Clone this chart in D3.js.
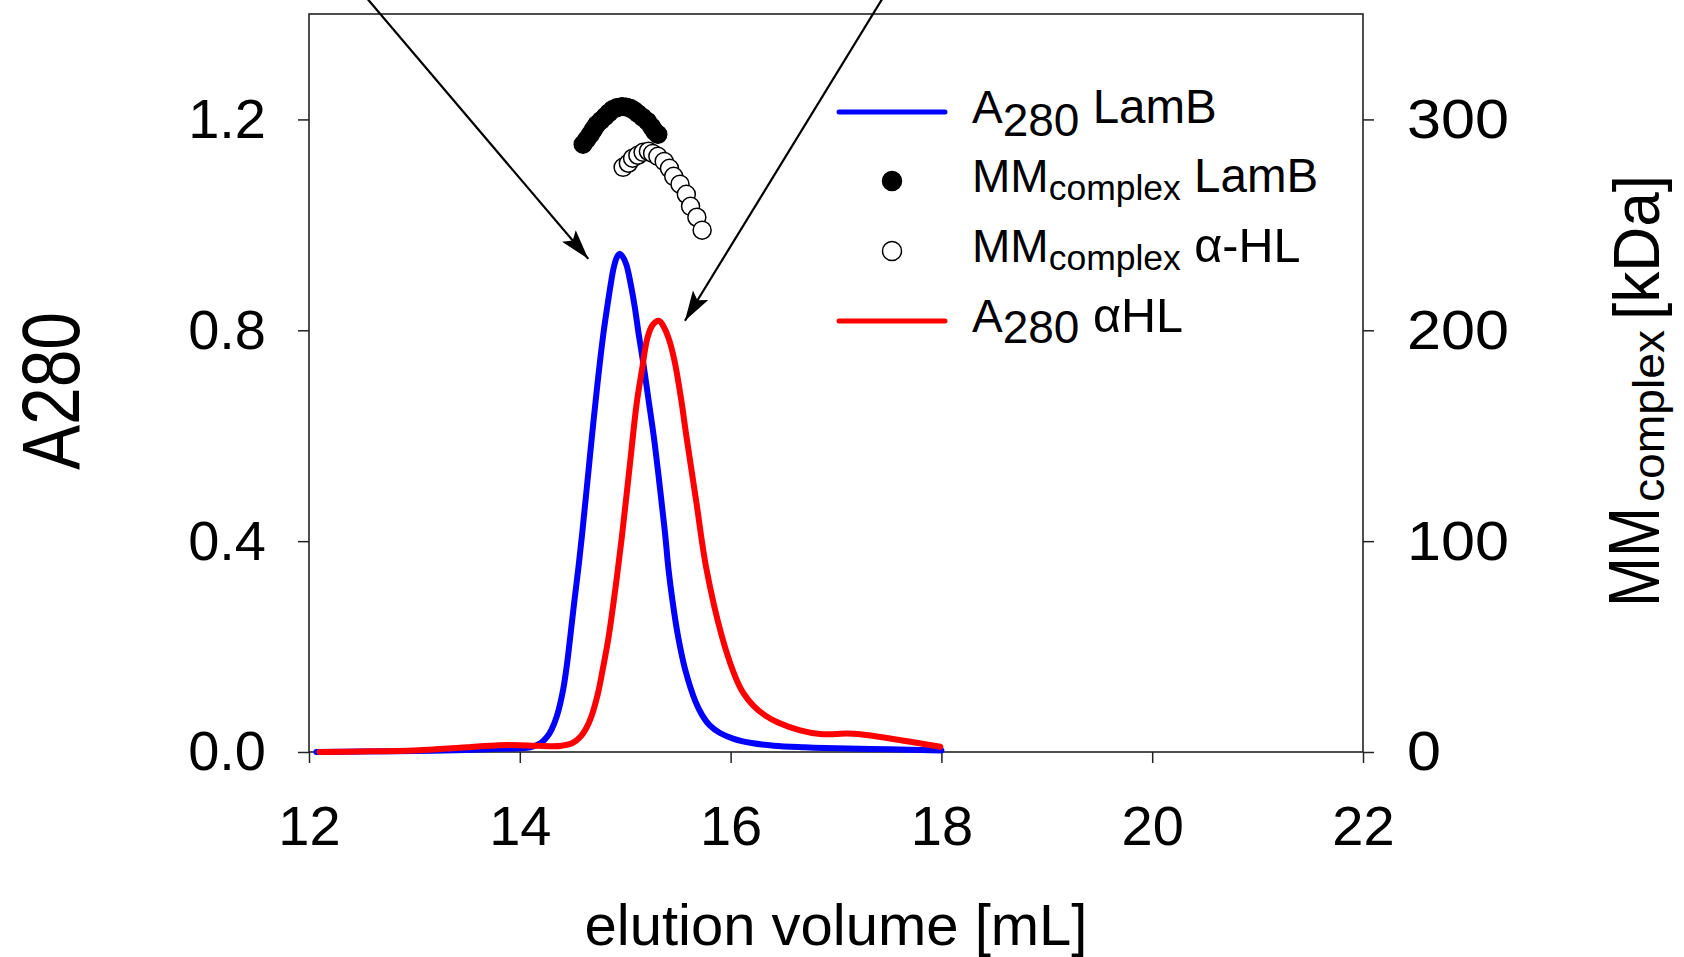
<!DOCTYPE html>
<html>
<head>
<meta charset="utf-8">
<script src="https://cdn.jsdelivr.net/npm/d3@7"></script>
<style>
  html, body { margin: 0; padding: 0; background: #fff; }
  svg { display: block; }
  text { font-family: "Liberation Sans", Arial, Helvetica, sans-serif; fill: #000; }
</style>
</head>
<body>
<svg id="chart" width="1684" height="957"></svg>
<script>
// ---- data -------------------------------------------------------------
// A280 trace, LamB (elution volume in mL, absorbance)
const lambVol = [12.07, 12.5, 13.0, 13.5, 13.8, 14.0, 14.1, 14.2, 14.26, 14.3, 14.35, 14.41, 14.45, 14.48,
  14.52, 14.555, 14.59, 14.63, 14.68, 14.735, 14.79, 14.83, 14.86, 14.89, 14.92, 14.944, 14.975, 15.01,
  15.05, 15.09, 15.13, 15.17, 15.22, 15.27, 15.31, 15.345, 15.38, 15.41, 15.45, 15.5, 15.567, 15.668,
  15.73, 15.8, 15.9, 16.03, 16.2, 16.41, 16.7, 17.0, 17.5, 18.0];
const lambA280 = [0, 0.001, 0.002, 0.004, 0.006, 0.007, 0.009, 0.017, 0.029, 0.042, 0.067, 0.117, 0.17, 0.221,
  0.29, 0.348, 0.411, 0.49, 0.59, 0.695, 0.789, 0.845, 0.884, 0.918, 0.938, 0.945, 0.94, 0.925,
  0.89, 0.845, 0.79, 0.74, 0.67, 0.60, 0.535, 0.474, 0.411, 0.348, 0.285, 0.221, 0.158, 0.095,
  0.07, 0.051, 0.036, 0.025, 0.017, 0.012, 0.009, 0.007, 0.005, 0.003];

// A280 trace, alpha-hemolysin
const hlVol = [12.1, 12.5, 13.0, 13.2, 13.5, 13.8, 14.0, 14.13, 14.3, 14.4, 14.5, 14.58, 14.63, 14.68,
  14.74, 14.79, 14.84, 14.88, 14.92, 14.97, 15.04, 15.11, 15.16, 15.21, 15.26, 15.32, 15.37, 15.42,
  15.47, 15.53, 15.58, 15.675, 15.77, 15.915, 16.04, 16.12, 16.22, 16.33, 16.45, 16.66, 16.85, 17.0,
  17.1, 17.25, 17.5, 17.75, 17.99];
const hlA280 = [0, 0.001, 0.003, 0.005, 0.009, 0.013, 0.013, 0.012, 0.011, 0.012, 0.017, 0.03, 0.045, 0.068,
  0.11, 0.16, 0.215, 0.27, 0.33, 0.411, 0.537, 0.663, 0.726, 0.785, 0.81, 0.818, 0.805, 0.78,
  0.74, 0.67, 0.60, 0.474, 0.348, 0.221, 0.145, 0.112, 0.087, 0.069, 0.056, 0.041, 0.034, 0.034,
  0.035, 0.033, 0.026, 0.018, 0.010];

// Molar mass of the complex across the peak (kDa)
const mmLambVol = [14.60, 14.635, 14.67, 14.70, 14.73, 14.77, 14.81, 14.845, 14.88, 14.92, 14.97, 15.01,
  15.05, 15.085, 15.12, 15.165, 15.21, 15.25, 15.28, 15.31];
const mmLamb = [288.2, 290.5, 292.9, 295.3, 297.6, 299.5, 301.4, 303.1, 304.7, 305.6, 306.1, 305.9,
  305.3, 304.2, 302.8, 301.0, 299.1, 296.5, 294.3, 292.9];

const mmHlVol = [14.98, 15.03, 15.07, 15.12, 15.17, 15.22, 15.26, 15.31, 15.37, 15.42, 15.46, 15.52,
  15.58, 15.62, 15.68, 15.73];
const mmHl = [277.3, 279.2, 281.6, 283.0, 284.4, 284.9, 283.9, 282.5, 280.1, 276.8, 273.0, 269.3,
  264.5, 258.8, 253.6, 247.5];

// axis ticks
const xTicks = [12, 14, 16, 18, 20, 22];
const leftTicks = [0.0, 0.4, 0.8, 1.2];
const rightTicks = [0, 100, 200, 300];

// ---- layout -----------------------------------------------------------
const svg = d3.select("#chart");
const FONT = 56;
const plotL = 309, plotR = 1363, plotT = 14, plotB = 752;

const x = d3.scaleLinear().domain([12, 22]).range([plotL, plotR]);
const yA = d3.scaleLinear().domain([0, 1.4]).range([plotB, plotT]);
const yMM = d3.scaleLinear().domain([0, 350]).range([plotB, plotT]);

svg.append("rect").attr("width", 1684).attr("height", 957).attr("fill", "#fff");

// axes
function styleAxis(g) {
  g.select(".domain").remove();
  g.selectAll(".tick line").attr("stroke", "#222").attr("stroke-width", 1.5);
  g.selectAll(".tick text").attr("font-size", FONT)
    .attr("font-family", "'Liberation Sans', Arial, sans-serif").attr("fill", "#000");
}

svg.append("g").attr("transform", `translate(0,${plotB})`)
  .call(d3.axisBottom(x).tickValues(xTicks).tickSize(11).tickPadding(42).tickFormat(d3.format("d")))
  .call(styleAxis);

svg.append("g").attr("transform", `translate(${plotL},0)`)
  .call(d3.axisLeft(yA).tickValues(leftTicks).tickSize(11).tickPadding(32).tickFormat(d3.format(".1f")))
  .call(styleAxis);

// right-hand tick labels are set a little wider
svg.append("g").attr("transform", `translate(${plotR},0)`)
  .call(d3.axisRight(yMM).tickValues(rightTicks).tickSize(11).tickPadding(33).tickFormat(d3.format("d")))
  .call(styleAxis)
  .call(g => g.selectAll(".tick text")
    .attr("textLength", d => String(d).length * 34)
    .attr("lengthAdjust", "spacingAndGlyphs"));

// frame
svg.append("rect")
  .attr("x", plotL).attr("y", plotT)
  .attr("width", plotR - plotL).attr("height", plotB - plotT)
  .attr("fill", "none").attr("stroke", "#222").attr("stroke-width", 1.6);

// ---- traces -------------------------------------------------------------
const line = d3.line().x(d => x(d[0])).y(d => yA(d[1])).curve(d3.curveCatmullRom.alpha(0.5));

svg.append("path")
  .datum(d3.zip(lambVol, lambA280))
  .attr("d", line)
  .attr("fill", "none").attr("stroke", "#0000ff").attr("stroke-width", 6)
  .attr("stroke-linejoin", "round").attr("stroke-linecap", "round");

svg.append("path")
  .datum(d3.zip(hlVol, hlA280))
  .attr("d", line)
  .attr("fill", "none").attr("stroke", "#ff0000").attr("stroke-width", 6)
  .attr("stroke-linejoin", "round").attr("stroke-linecap", "round");

// molar-mass points
svg.append("g").selectAll("circle")
  .data(d3.zip(mmLambVol, mmLamb))
  .join("circle")
  .attr("cx", d => x(d[0])).attr("cy", d => yMM(d[1])).attr("r", 9)
  .attr("fill", "#000").attr("stroke", "#000").attr("stroke-width", 1.2);

svg.append("g").selectAll("circle")
  .data(d3.zip(mmHlVol, mmHl))
  .join("circle")
  .attr("cx", d => x(d[0])).attr("cy", d => yMM(d[1])).attr("r", 9)
  .attr("fill", "#fff").attr("stroke", "#000").attr("stroke-width", 1.5);

// ---- annotation arrows ----------------------------------------------
const defs = svg.append("defs");
defs.append("marker")
  .attr("id", "head").attr("viewBox", "0 0 30 18")
  .attr("refX", 30).attr("refY", 9)
  .attr("markerWidth", 30).attr("markerHeight", 18)
  .attr("markerUnits", "userSpaceOnUse").attr("orient", "auto")
  .append("path").attr("d", "M0,0 L30,9 L0,18 L6,9 Z").attr("fill", "#000");

// arrow 1 points at the LamB peak, arrow 2 at the alpha-HL peak
const arrows = [
  { from: [365, -4], to: [x(14.944) - 31, yA(0.945) + 5] },
  { from: [884, -4], to: [x(15.32) + 26, yA(0.818)] }
];
svg.append("g").selectAll("line")
  .data(arrows)
  .join("line")
  .attr("x1", d => d.from[0]).attr("y1", d => d.from[1])
  .attr("x2", d => d.to[0]).attr("y2", d => d.to[1])
  .attr("stroke", "#000").attr("stroke-width", 2.2)
  .attr("marker-end", "url(#head)");

// ---- legend -----------------------------------------------------------
// each entry: symbol + text runs [text, size, baseline shift]
const legendRows = [
  { sym: "line", color: "#0000ff", y: 123, runs: [["A", 46, 0], ["280", 46, 13], [" LamB", 47.5, 0]] },
  { sym: "dot", fill: "#000", y: 192, runs: [["MM", 46, 0], ["complex", 35.5, 8], [" LamB", 47.5, 0]] },
  { sym: "dot", fill: "#fff", y: 262, runs: [["MM", 46, 0], ["complex", 35.5, 8], [" \u03b1-HL", 48.5, 0]] },
  { sym: "line", color: "#ff0000", y: 332, runs: [["A", 46, 0], ["280", 46, 11], [" \u03b1HL", 48.5, 0]] }
];
const lg = svg.append("g");
legendRows.forEach(row => {
  if (row.sym === "line") {
    lg.append("line").attr("x1", 839).attr("x2", 945)
      .attr("y1", row.y - 11).attr("y2", row.y - 11)
      .attr("stroke", row.color).attr("stroke-width", 5).attr("stroke-linecap", "round");
  } else {
    lg.append("circle").attr("cx", 892).attr("cy", row.y - 11).attr("r", 9.5)
      .attr("fill", row.fill).attr("stroke", "#000").attr("stroke-width", 1.5);
  }
  const t = lg.append("text").attr("x", 972).attr("y", row.y).style("white-space", "pre");
  let prev = 0;
  row.runs.forEach(([s, size, shift]) => {
    t.append("tspan").attr("font-size", size).attr("dy", shift - prev).text(s);
    prev = shift;
  });
});

// ---- axis titles -------------------------------------------------------
svg.append("text")
  .attr("x", (plotL + plotR) / 2).attr("y", 945)
  .attr("text-anchor", "middle").attr("font-size", 58)
  .text("elution volume [mL]");

// left title, reads bottom-to-top
svg.append("text")
  .attr("transform", "translate(79,470) rotate(-90)")
  .attr("font-size", 82)
  .attr("textLength", 158).attr("lengthAdjust", "spacingAndGlyphs")
  .text("A280");

// right title, reads bottom-to-top
const rt = svg.append("g").attr("transform", "rotate(-90)");
rt.append("text").attr("x", -607).attr("y", 1659).attr("font-size", 72)
  .attr("textLength", 100).attr("lengthAdjust", "spacingAndGlyphs").text("MM");
rt.append("text").attr("x", -502).attr("y", 1664).attr("font-size", 44)
  .attr("textLength", 172).attr("lengthAdjust", "spacingAndGlyphs").text("complex");
rt.append("text").attr("x", -320).attr("y", 1659).attr("font-size", 64)
  .attr("textLength", 145).attr("lengthAdjust", "spacingAndGlyphs").text("[kDa]");
</script>
</body>
</html>
